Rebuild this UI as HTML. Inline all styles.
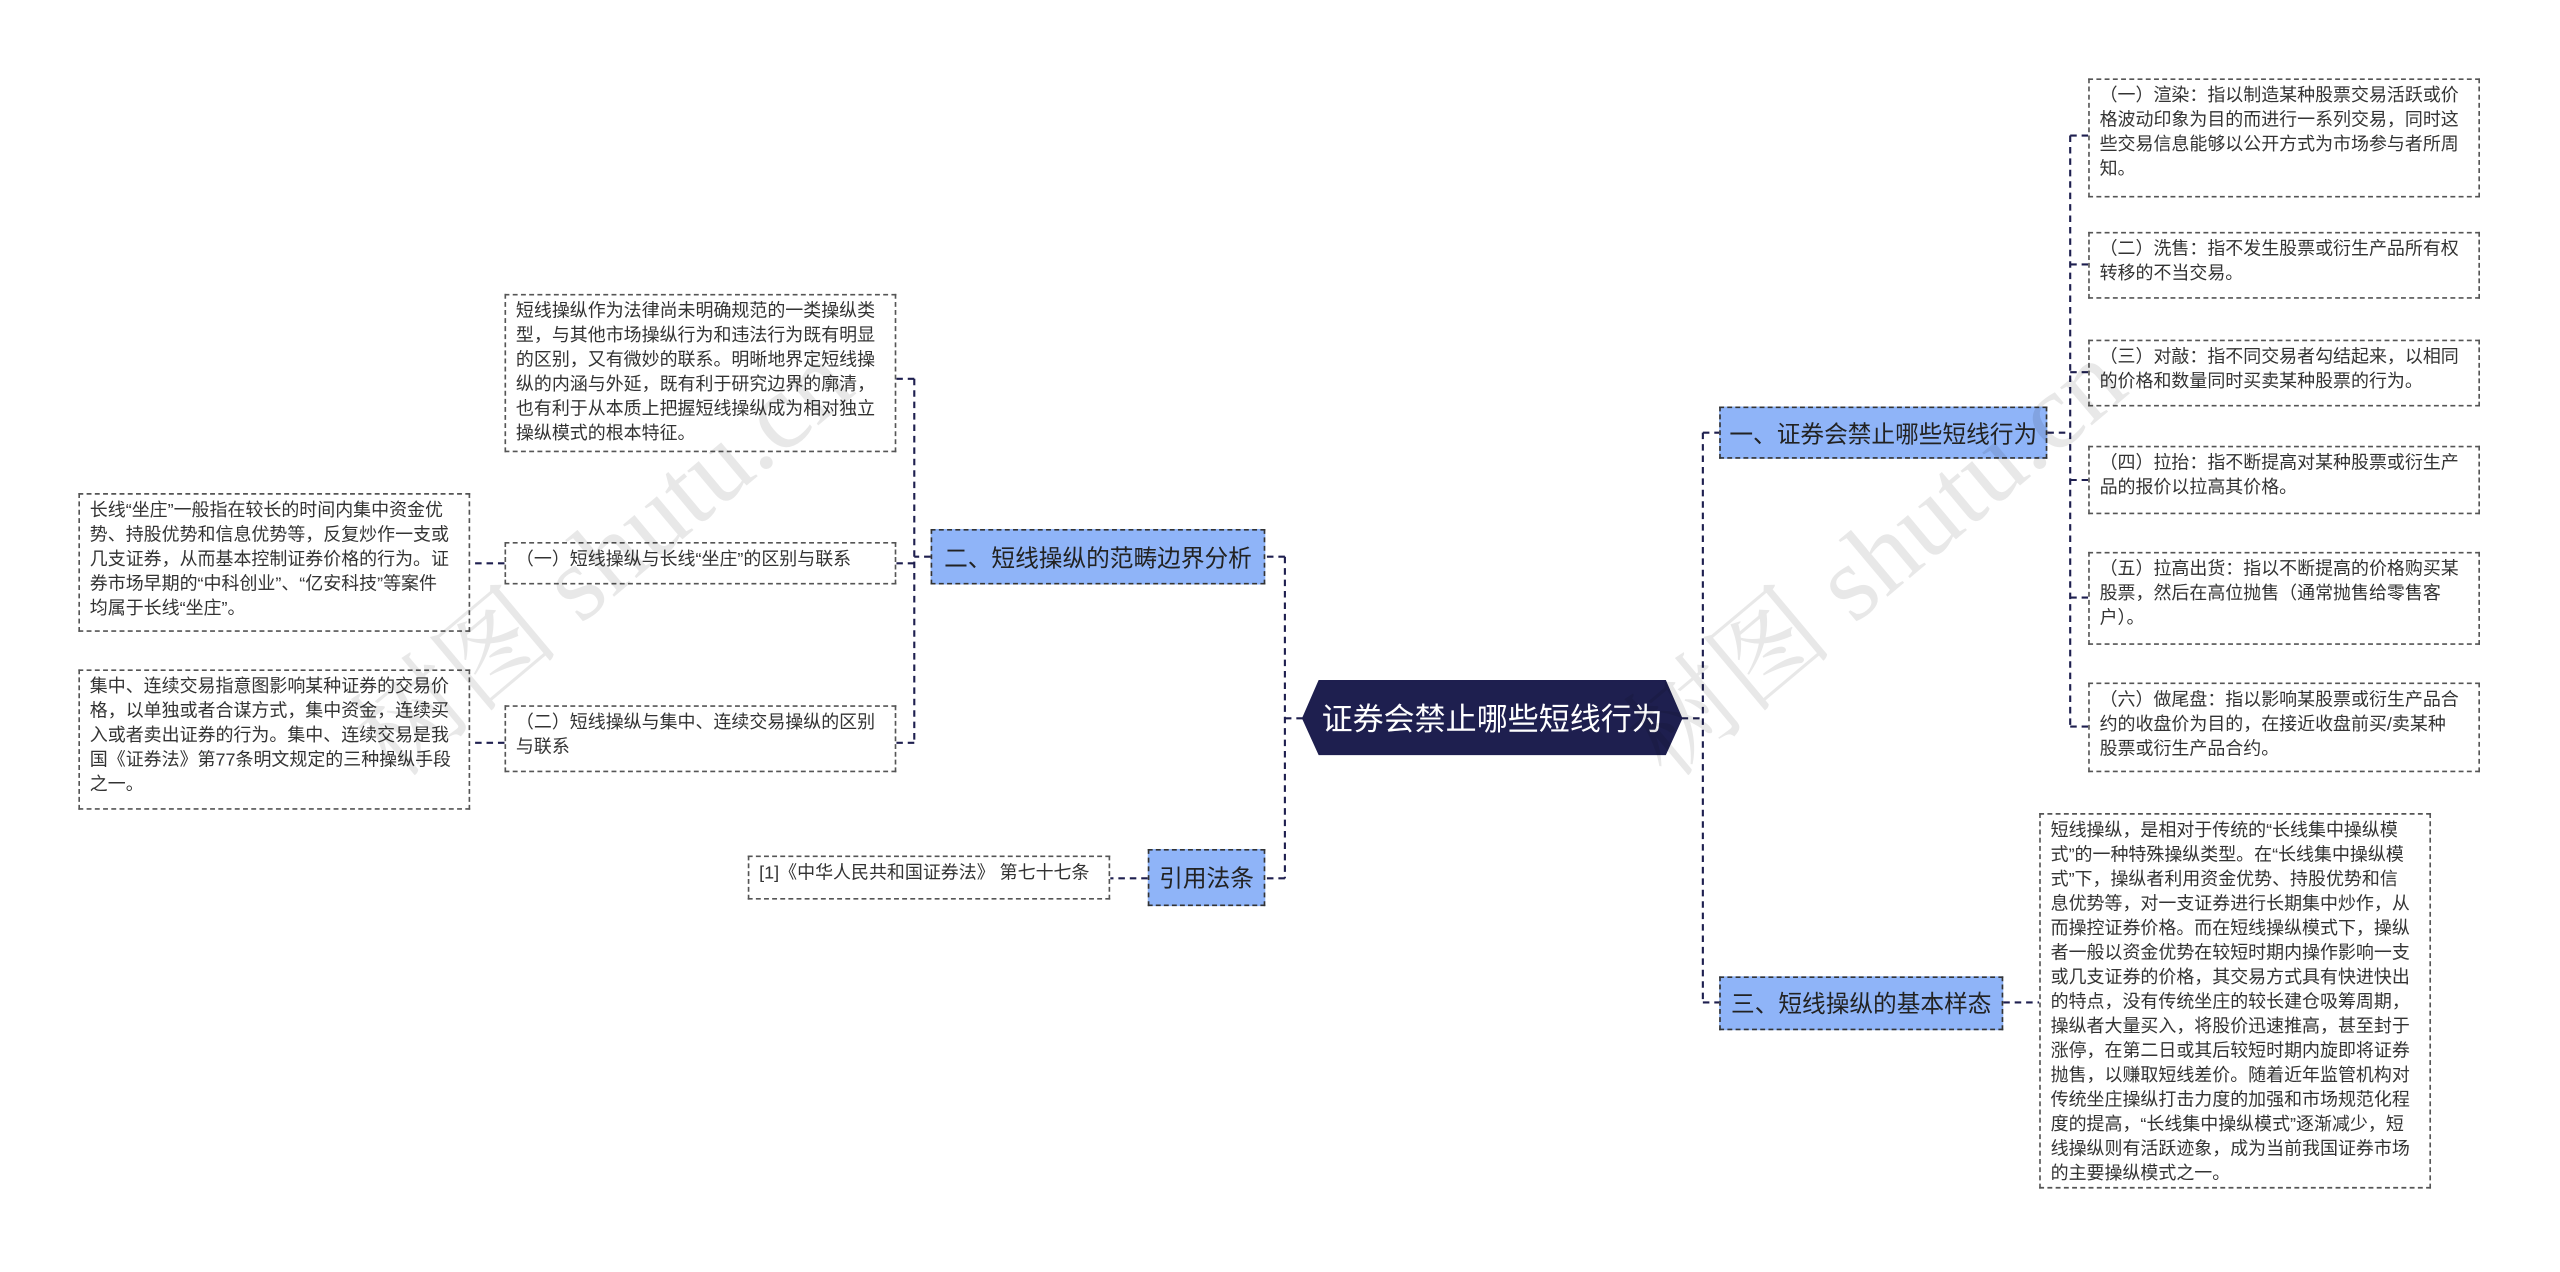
<!DOCTYPE html>
<html><head><meta charset="utf-8"><style>
html,body{margin:0;padding:0;background:#fff;width:2560px;height:1272px;overflow:hidden}
#w{position:absolute;left:0;top:0;width:1568px;height:779px;transform:scale(1.63265);transform-origin:0 0;font-family:"Liberation Sans","Noto Sans CJK SC",sans-serif}
.b{position:absolute;border:1px dashed #555;box-sizing:border-box;padding:3px 9px 3px 6px;font-size:11px;line-height:15px;color:#333;background:#fff}
.m{position:absolute;box-sizing:border-box;background:#8fb4f8;border:1px dashed #333;font-size:14.5px;color:#222;display:flex;align-items:center;justify-content:center;white-space:nowrap}
.wm{position:absolute;font-size:66px;color:rgba(0,0,0,0.09);transform:rotate(-40deg);white-space:nowrap;font-family:"Liberation Serif","Noto Serif CJK SC",serif}
</style></head><body><div id="w">
<svg style="position:absolute;left:0;top:0" width="1568" height="779">
<g stroke="#1e1f4f" stroke-width="1.3" stroke-dasharray="4,3" fill="none">
<path d="M798 440 H787 M787 341 V538 M787 341 H776 M787 538 H776"/>
<path d="M1030 440 H1043 M1043 265 V614 M1043 265 H1053 M1043 614 H1053"/>
<path d="M570 341 H560 M560 232 V455 M560 232 H549 M560 345 H549 M560 455 H549"/>
<path d="M309 345 H288 M309 455 H288"/>
<path d="M703 538 H680"/>
<path d="M1254 265 H1268 M1268 83 V445 M1268 83 H1279 M1268 162 H1279 M1268 228 H1279 M1268 294 H1279 M1268 366 H1279 M1268 445 H1279"/>
<path d="M1227 614 H1249"/>
</g>
<polygon points="798,440 808,417 1020,417 1030,440 1020,462 808,462" fill="#1e1f4f" stroke="#1e1f4f"/>
</svg>
<div style="position:absolute;left:798px;top:417px;width:232px;height:45px;color:#fff;font-size:19px;display:flex;align-items:center;justify-content:center">证券会禁止哪些短线行为</div>
<div class="m" style="left:570px;top:324px;width:205px;height:34px">二、短线操纵的范畴边界分析</div>
<div class="m" style="left:703px;top:520px;width:72px;height:35px">引用法条</div>
<div class="m" style="left:1053px;top:249px;width:201px;height:32px">一、证券会禁止哪些短线行为</div>
<div class="m" style="left:1053px;top:598px;width:174px;height:33px">三、短线操纵的基本样态</div>
<div class="b" style="left:309px;top:180px;width:240px;height:97px">短线操纵作为法律尚未明确规范的一类操纵类型，与其他市场操纵行为和违法行为既有明显的区别，又有微妙的联系。明晰地界定短线操纵的内涵与外延，既有利于研究边界的廓清，也有利于从本质上把握短线操纵成为相对独立操纵模式的根本特征。</div>
<div class="b" style="left:309px;top:332px;width:240px;height:26px;white-space:nowrap">（一）短线操纵与长线“坐庄”的区别与联系</div>
<div class="b" style="left:48px;top:302px;width:240px;height:85px">长线“坐庄”一般指在较长的时间内集中资金优势、持股优势和信息优势等，反复炒作一支或几支证券，从而基本控制证券价格的行为。证券市场早期的“中科创业”、“亿安科技”等案件均属于长线“坐庄”。</div>
<div class="b" style="left:309px;top:432px;width:240px;height:41px">（二）短线操纵与集中、连续交易操纵的区别与联系</div>
<div class="b" style="left:48px;top:410px;width:240px;height:86px">集中、连续交易指意图影响某种证券的交易价格，以单独或者合谋方式，集中资金，连续买入或者卖出证券的行为。集中、连续交易是我国《证券法》第77条明文规定的三种操纵手段之一。</div>
<div class="b" style="left:458px;top:524px;width:222px;height:27px;white-space:nowrap">[1]《中华人民共和国证券法》 第七十七条</div>
<div class="b" style="left:1279px;top:48px;width:240px;height:73px">（一）渲染：指以制造某种股票交易活跃或价格波动印象为目的而进行一系列交易，同时这些交易信息能够以公开方式为市场参与者所周知。</div>
<div class="b" style="left:1279px;top:142px;width:240px;height:41px">（二）洗售：指不发生股票或衍生产品所有权转移的不当交易。</div>
<div class="b" style="left:1279px;top:208px;width:240px;height:41px">（三）对敲：指不同交易者勾结起来，以相同的价格和数量同时买卖某种股票的行为。</div>
<div class="b" style="left:1279px;top:273px;width:240px;height:42px">（四）拉抬：指不断提高对某种股票或衍生产品的报价以拉高其价格。</div>
<div class="b" style="left:1279px;top:338px;width:240px;height:57px">（五）拉高出货：指以不断提高的价格购买某股票，然后在高位抛售（通常抛售给零售客户）。</div>
<div class="b" style="left:1279px;top:418px;width:240px;height:55px">（六）做尾盘：指以影响某股票或衍生产品合约的收盘价为目的，在接近收盘前买/卖某种股票或衍生产品合约。</div>
<div class="b" style="left:1249px;top:498px;width:240px;height:230px">短线操纵，是相对于传统的“长线集中操纵模式”的一种特殊操纵类型。在“长线集中操纵模式”下，操纵者利用资金优势、持股优势和信息优势等，对一支证券进行长期集中炒作，从而操控证券价格。而在短线操纵模式下，操纵者一般以资金优势在较短时期内操作影响一支或几支证券的价格，其交易方式具有快进快出的特点，没有传统坐庄的较长建仓吸筹周期，操纵者大量买入，将股价迅速推高，甚至封于涨停，在第二日或其后较短时期内旋即将证券抛售，以赚取短线差价。随着近年监管机构对传统坐庄操纵打击力度的加强和市场规范化程度的提高，“长线集中操纵模式”逐渐减少，短线操纵则有活跃迹象，成为当前我国证券市场的主要操纵模式之一。</div>
<div class="wm" style="left:180px;top:290px">树图 shutu.cn</div>
<div class="wm" style="left:960px;top:290px">树图 shutu.cn</div>
</div></body></html>
